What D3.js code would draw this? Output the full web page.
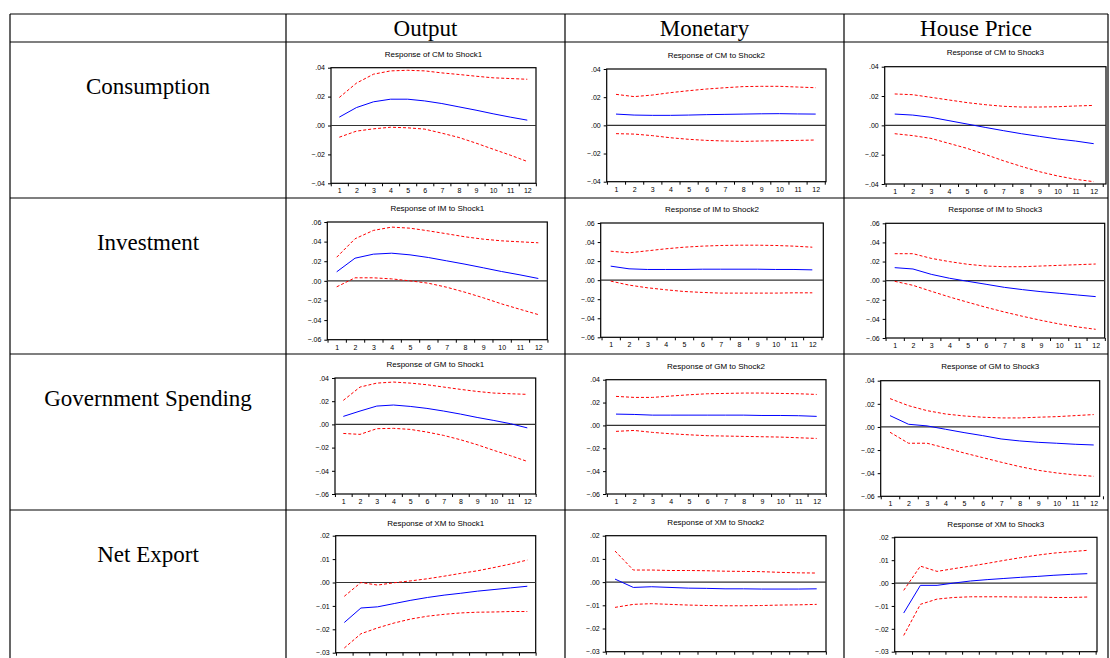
<!DOCTYPE html>
<html>
<head>
<meta charset="utf-8">
<script src="https://cdn.jsdelivr.net/npm/d3@7"></script>
<style>
  body { margin: 0; background: #fff; }
  .tick text { font-family: "Liberation Sans", Arial, sans-serif; }
</style>
</head>
<body>
<svg width="1110" height="658"></svg>
<script>
var periods = d3.range(1, 13)
var shocks = ["Output", "Monetary", "House Price"]
var variables = ["Consumption", "Investment", "Government Spending", "Net Export"]
var codes = ["CM", "IM", "GM", "XM"]
var yTicks = [
  [0.04, 0.02, 0, -0.02, -0.04],
  [0.06, 0.04, 0.02, 0, -0.02, -0.04, -0.06],
  [0.04, 0.02, 0, -0.02, -0.04, -0.06],
  [0.02, 0.01, 0, -0.01, -0.02, -0.03]
]

// impulse responses (blue) and upper / lower bands (red dashed)
var cm1   = [.0058,.0124,.0164,.0182,.0182,.0170,.0152,.0129,.0106,.0081,.0058,.0037]
var cm1Hi = [.0194,.0293,.0355,.0378,.0382,.0378,.0364,.0353,.0341,.0330,.0325,.0320]
var cm1Lo = [-.0081,-.0039,-.0023,-.0012,-.0016,-.0025,-.0053,-.0083,-.0122,-.0164,-.0205,-.0249]
var cm2   = [.0080,.0073,.0071,.0071,.0073,.0076,.0078,.0080,.0082,.0083,.0081,.0080]
var cm2Hi = [.0220,.0204,.0215,.0232,.0246,.0258,.0267,.0275,.0277,.0277,.0272,.0267]
var cm2Lo = [-.0059,-.0062,-.0073,-.0088,-.0099,-.0107,-.0111,-.0114,-.0111,-.0109,-.0107,-.0104]
var cm3   = [.0077,.0070,.0055,.0032,.0009,-.0014,-.0036,-.0057,-.0075,-.0093,-.0107,-.0125]
var cm3Hi = [.0214,.0209,.0191,.0173,.0155,.0141,.0130,.0125,.0125,.0127,.0132,.0136]
var cm3Lo = [-.0057,-.0070,-.0089,-.0123,-.0157,-.0198,-.0241,-.0280,-.0316,-.0345,-.0368,-.0384]

var im1   = [.0092,.0231,.0272,.0282,.0265,.0238,.0204,.0170,.0133,.0095,.0061,.0024]
var im1Hi = [.0241,.0429,.0514,.0548,.0537,.0510,.0480,.0449,.0425,.0408,.0398,.0388]
var im1Lo = [-.0061,.0031,.0031,.0020,.0000,-.0024,-.0065,-.0116,-.0173,-.0235,-.0290,-.0344]
var im2   = [.0147,.0119,.0112,.0112,.0112,.0115,.0115,.0115,.0115,.0112,.0112,.0108]
var im2Hi = [.0304,.0287,.0308,.0329,.0346,.0357,.0364,.0367,.0367,.0364,.0357,.0346]
var im2Lo = [-.0010,-.0052,-.0080,-.0101,-.0119,-.0129,-.0136,-.0136,-.0136,-.0136,-.0133,-.0133]
var im3   = [.0136,.0122,.0066,.0025,-.0007,-.0038,-.0070,-.0094,-.0115,-.0132,-.0150,-.0167]
var im3Hi = [.0282,.0282,.0233,.0199,.0171,.0153,.0146,.0146,.0153,.0160,.0167,.0174]
var im3Lo = [-.0007,-.0049,-.0111,-.0171,-.0226,-.0279,-.0328,-.0373,-.0415,-.0453,-.0484,-.0509]

var gm1   = [.0069,.0115,.0158,.0167,.0155,.0138,.0115,.0089,.0060,.0034,.0006,-.0030]
var gm1Hi = [.0207,.0322,.0356,.0365,.0356,.0342,.0322,.0302,.0284,.0270,.0264,.0259]
var gm1Lo = [-.0078,-.0086,-.0037,-.0034,-.0043,-.0066,-.0095,-.0132,-.0175,-.0224,-.0270,-.0319]
var gm2   = [.0099,.0096,.0090,.0090,.0090,.0090,.0090,.0090,.0087,.0087,.0085,.0079]
var gm2Hi = [.0254,.0245,.0245,.0257,.0268,.0277,.0280,.0283,.0283,.0280,.0277,.0271]
var gm2Lo = [-.0052,-.0044,-.0061,-.0073,-.0082,-.0090,-.0093,-.0096,-.0099,-.0102,-.0108,-.0114]
var gm3   = [.0098,.0023,.0009,-.0020,-.0049,-.0075,-.0104,-.0121,-.0133,-.0141,-.0150,-.0156]
var gm3Hi = [.0245,.0184,.0141,.0112,.0095,.0084,.0078,.0078,.0084,.0089,.0098,.0107]
var gm3Lo = [-.0046,-.0141,-.0141,-.0182,-.0225,-.0265,-.0305,-.0343,-.0375,-.0398,-.0415,-.0427]

var xm1   = [-.0171,-.0109,-.0104,-.0090,-.0076,-.0064,-.0054,-.0046,-.0037,-.0030,-.0023,-.0016]
var xm1Hi = [-.0059,.0000,-.0011,-.0001,.0007,.0016,.0027,.0039,.0050,.0064,.0079,.0096]
var xm1Lo = [-.0280,-.0219,-.0194,-.0173,-.0156,-.0144,-.0136,-.0130,-.0127,-.0126,-.0124,-.0124]
var xm2   = [.0013,-.0023,-.0020,-.0023,-.0026,-.0027,-.0029,-.0029,-.0030,-.0030,-.0030,-.0029]
var xm2Hi = [.0134,.0052,.0052,.0050,.0050,.0049,.0047,.0046,.0045,.0042,.0040,.0039]
var xm2Lo = [-.0109,-.0096,-.0093,-.0096,-.0099,-.0101,-.0102,-.0102,-.0101,-.0099,-.0098,-.0096]
var xm3   = [-.0131,-.0010,-.0010,.0000,.0009,.0015,.0020,.0025,.0029,.0034,.0038,.0041]
var xm3Hi = [-.0032,.0074,.0051,.0063,.0074,.0086,.0099,.0111,.0122,.0131,.0137,.0143]
var xm3Lo = [-.0229,-.0093,-.0070,-.0063,-.0060,-.0060,-.0060,-.0061,-.0061,-.0063,-.0063,-.0061]

var series = [
  [cm1, cm1Hi, cm1Lo], [cm2, cm2Hi, cm2Lo], [cm3, cm3Hi, cm3Lo],
  [im1, im1Hi, im1Lo], [im2, im2Hi, im2Lo], [im3, im3Hi, im3Lo],
  [gm1, gm1Hi, gm1Lo], [gm2, gm2Hi, gm2Lo], [gm3, gm3Hi, gm3Lo],
  [xm1, xm1Hi, xm1Lo], [xm2, xm2Hi, xm2Lo], [xm3, xm3Hi, xm3Lo]
]

// layout: table grid and each little plot's box (x0,x1 frame; yt,yb = top/bottom tick; a,b = period 1 / 12; ty = title)
var colX = [10, 286, 565, 844, 1108]
var rowY = [14, 42, 198, 354, 510, 700]
var boxes = [
  {x0:331,   x1:536,    yt:67.7,  yb:183.3, a:339.3, b:527.3,  ty:54.3},
  {x0:606.7, x1:826,    yt:69,    yb:181.7, a:616,   b:815.7,  ty:55},
  {x0:884.7, x1:1106,   yt:66.7,  yb:184,   a:894.7, b:1093.7, ty:52.3},
  {x0:327.3, x1:547.3,  yt:222,   yb:339.7, a:336.7, b:538.3,  ty:208},
  {x0:600.7, x1:823.3,  yt:223,   yb:337.3, a:610.7, b:812.3,  ty:209},
  {x0:885.7, x1:1104.7, yt:223.3, yb:338,   a:894.7, b:1095.7, ty:209},
  {x0:335,   x1:535.7,  yt:378,   yb:494,   a:343.3, b:527.3,  ty:364},
  {x0:606,   x1:826,    yt:379.7, yb:494,   a:616,   b:816.7,  ty:366.3},
  {x0:880.7, x1:1099.7, yt:380.7, yb:496.3, a:890,   b:1093.7, ty:366.3},
  {x0:335.7, x1:535.7,  yt:535.7, yb:652.7, a:344.3, b:527.3,  ty:522.7},
  {x0:605.7, x1:826,    yt:535.7, yb:651.7, a:615,   b:816.7,  ty:522.3},
  {x0:894.7, x1:1097,   yt:537.3, yb:651.7, a:903.7, b:1087.3, ty:524.3}
]

var svg = d3.select("svg")
var fmt = function(d){ return d3.format(".2f")(d).replace("0.", ".") }

boxes.forEach(function(p, i){
  var r = Math.floor(i / 3), c = i % 3
  var ticks = yTicks[r]
  var x = d3.scaleLinear().domain([1, 12]).range([p.a, p.b])
  var y = d3.scaleLinear().domain([d3.min(ticks), d3.max(ticks)]).range([p.yb, p.yt])
  var g = svg.append("g")

  g.append("text")
    .attr("x", (p.x0 + p.x1) / 2)
    .attr("y", p.ty)
    .attr("dy", "0.35em")
    .attr("text-anchor", "middle")
    .style("font-family", "Liberation Sans, Arial, sans-serif")
    .style("font-size", "8px")
    .text("Response of " + codes[r] + " to Shock" + (c + 1))

  var ya = g.append("g")
    .attr("transform", "translate(" + p.x0 + ",0)")
    .call(d3.axisLeft(y).tickValues(ticks).tickFormat(fmt).tickSize(3).tickPadding(3))
  ya.select(".domain").remove()
  ya.selectAll("text").style("font-size", "7px")

  // period labels; the bottom row's fall below the page, as in the original
  if (r < 3) {
    var xa = g.append("g")
      .attr("transform", "translate(0," + p.yb + ")")
      .call(d3.axisBottom(x).tickValues(periods).tickSize(0).tickPadding(5))
    xa.select(".domain").remove()
    xa.selectAll("text").style("font-size", "7px")
  }

  var xm = g.append("g")
    .attr("transform", "translate(0," + p.yb + ")")
    .call(d3.axisBottom(x).tickValues(d3.range(0.5, 13, 1)).tickFormat("").tickSize(3))
  xm.select(".domain").remove()

  g.append("rect")
    .attr("x", p.x0).attr("y", p.yt)
    .attr("width", p.x1 - p.x0).attr("height", p.yb - p.yt)
    .attr("fill", "none").attr("stroke", "#000").attr("stroke-width", 1.2)

  g.append("line")
    .attr("x1", p.x0).attr("x2", p.x1)
    .attr("y1", y(0)).attr("y2", y(0))
    .attr("stroke", "#333").attr("stroke-width", 1.2)

  var line = d3.line().x(function(d, k){ return x(periods[k]) }).y(function(d){ return y(d) })
  var s = series[i]
  g.append("path").attr("d", line(s[1])).attr("fill", "none")
    .attr("stroke", "#ff0000").attr("stroke-width", 1).attr("stroke-dasharray", "3,2")
  g.append("path").attr("d", line(s[2])).attr("fill", "none")
    .attr("stroke", "#ff0000").attr("stroke-width", 1).attr("stroke-dasharray", "3,2")
  g.append("path").attr("d", line(s[0])).attr("fill", "none")
    .attr("stroke", "#0000ff").attr("stroke-width", 1)
})

// table grid
var grid = svg.append("g").attr("stroke", "#000").attr("stroke-width", 1.2)
rowY.slice(0, 5).forEach(function(yy){
  grid.append("line").attr("x1", colX[0]).attr("x2", colX[4]).attr("y1", yy).attr("y2", yy)
})
colX.forEach(function(xx){
  grid.append("line").attr("x1", xx).attr("x2", xx).attr("y1", rowY[0]).attr("y2", 658)
})

svg.selectAll(".head")
  .data(shocks)
  .enter().append("text")
  .attr("class", "head")
  .attr("x", function(d, i){ return (colX[i + 1] + colX[i + 2]) / 2 })
  .attr("y", 36)
  .attr("text-anchor", "middle")
  .style("font-family", "Liberation Serif, Times New Roman, serif")
  .style("font-size", "23px")
  .text(function(d){ return d })

svg.selectAll(".rowlab")
  .data(variables)
  .enter().append("text")
  .attr("class", "rowlab")
  .attr("x", (colX[0] + colX[1]) / 2)
  .attr("y", function(d, i){ return rowY[i + 1] + 44 })
  .attr("dy", "0.35em")
  .attr("text-anchor", "middle")
  .style("font-family", "Liberation Serif, Times New Roman, serif")
  .style("font-size", "23px")
  .text(function(d){ return d })
</script>
</body>
</html>
